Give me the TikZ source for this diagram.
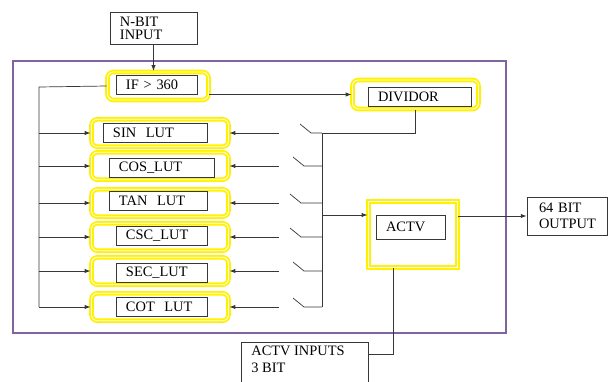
\documentclass[tikz,border=0pt]{standalone}
\usepackage{fontspec}
\setmainfont{Liberation Serif}
\usetikzlibrary{arrows.meta,calc}

\definecolor{framepurple}{RGB}{128,100,162}
\definecolor{wire}{RGB}{55,55,55}

\tikzset{
  ybox/.style={draw=yellow, double=white, line width=1.6pt, double distance=0.7pt,
               rounded corners=5pt, minimum width=#1, minimum height=0.82cm},
  tbox/.style={draw=wire, line width=0.6pt, inner xsep=0.3cm, inner ysep=0pt,
               minimum height=0.57cm, text width=#1, align=left},
  wr/.style={draw=wire, line width=0.6pt}
}

\begin{document}
\begin{tikzpicture}[x=0.03cm, y=-0.03cm, >={Latex[length=5pt,width=3.6pt]},
                    font=\fontsize{12.3}{14}\selectfont]
  \useasboundingbox (0,0) rectangle (608,381);
  \clip (0,0) rectangle (608,381);
  % outer frame
  \draw[framepurple, line width=2.3pt] (13,61) rectangle (506,333);

  % input and range check
  \node[tbox=2.01cm, minimum height=0.96cm, font=\fontsize{12.3}{11}\selectfont]
       (inp) at (153.5,28) {N-BIT\\INPUT};
  \node[ybox=3.03cm, minimum height=0.84cm] (ifo) at (158,86) {};
  \node[tbox=1.83cm] (ifb) at (156.5,84.5) {IF > 360};
  \node[ybox=3.78cm, minimum height=0.87cm] (divo) at (415.5,94.5) {};
  \node[tbox=2.49cm] (divb) at (419.5,96.5) {DIVIDOR};

  % look-up tables
  \node[ybox=4.11cm] (sin) at (160,133) {};
  \node[tbox=2.52cm] at (155,132.5) {SIN\ \ LUT};
  \node[ybox=4.11cm] (cos) at (160,166) {};
  \node[tbox=2.55cm] at (161.5,167.5) {COS\_LUT};
  \node[ybox=4.11cm] (tan) at (160,203) {};
  \node[tbox=2.34cm] at (158,201) {TAN\ \ LUT};
  \node[ybox=4.11cm] (csc) at (160,237) {};
  \node[tbox=2.13cm] at (161.5,236) {CSC\_LUT};
  \node[ybox=4.11cm] (sec) at (160,271) {};
  \node[tbox=2.13cm] at (161.5,272.5) {SEC\_LUT};
  \node[ybox=4.11cm] (cot) at (160,307) {};
  \node[tbox=2.13cm] at (161.5,306.5) {COT\ \ LUT};

  % activation block and its ports
  \node[ybox=2.67cm, sharp corners, minimum height=1.98cm] (actvo) at (413,234.5) {};
  \node[tbox=1.47cm, minimum height=0.72cm] (actvb) at (410.5,227) {ACTV};
  \node[tbox=1.68cm, inner xsep=0.36cm, minimum height=1.14cm] (out) at (567,216)
       {64 BIT\\OUTPUT};
  \node[draw=wire, line width=0.6pt, anchor=north west, inner xsep=0.3cm, inner ysep=0.12cm]
       (aint) at (241,342) {\parbox[c][1.6cm][t]{3.21cm}{ACTV INPUTS\\3 BIT}};

  % wiring
  \coordinate (lbus) at (39,87);
  \coordinate (rbus) at (322,0);
  \coordinate (sw) at (279,0);
  \coordinate (tap) at (322,215);
  \draw[wr, ->] (inp.south) -- (inp.south |- ifo.north);
  \draw[wr, ->] (ifo.east |- divo.west) -- (divo.west);
  \draw[wr] (ifo.west) -- (lbus) -- (lbus |- cot.west);
  \draw[wr] (divo.south) |- (rbus |- sin.east) -- (rbus |- cot.east);
  \foreach \n/\sx in {sin/300, cos/293, tan/290, csc/290, sec/293, cot/293}{
    \draw[wr, ->] (lbus |- \n.west) -- (\n.west);
    \draw[wr, ->] (sw |- \n.east) -- (\n.east);
    \coordinate (s) at (\sx,0);
    \draw[wr] ($(s |- \n.east)+(0,-9)$) -- ($(s |- \n.east)+(11,0)$) -- (rbus |- \n.east);
  }
  \draw[wr, ->] (tap) -- (tap -| actvo.west);
  \draw[wr, ->] (actvo.east |- out.west) -- (out.west);
  \draw[wr] ([xshift=-0.6cm]actvo.south) |- ([yshift=-0.36cm]aint.north east);
\end{tikzpicture}
\end{document}
